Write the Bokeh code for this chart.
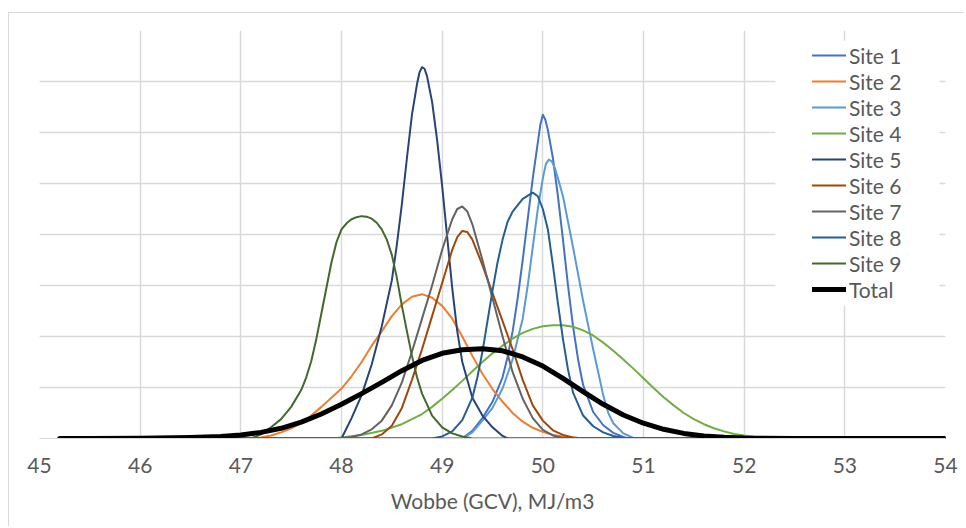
from bokeh.plotting import figure
from bokeh.models import (ColumnDataSource, Legend, LegendItem, FixedTicker, Grid,
                          SingleIntervalTicker, BoxAnnotation, Range1d)
from bokeh.embed import file_html
from bokeh.resources import INLINE

# ---------------- data ----------------
x_ticks = [45, 46, 47, 48, 49, 50, 51, 52, 53, 54]
series_names = ["Site 1", "Site 2", "Site 3", "Site 4", "Site 5",
                "Site 6", "Site 7", "Site 8", "Site 9", "Total"]

site1_x = [45.2, 49.2, 49.3, 49.4, 49.5, 49.6, 49.65, 49.7, 49.75, 49.8, 49.85, 49.9, 49.95, 49.975,
           50.0, 50.025, 50.05, 50.1, 50.15, 50.2, 50.25, 50.3, 50.35, 50.4, 50.5, 50.6, 50.7,
           50.8, 50.85, 54.0]
site1_y = [0, 0, 0.15, 0.4, 0.72, 1.2, 1.6, 2.1, 2.75, 3.5, 4.3, 5.1, 5.8, 6.15,
           6.35, 6.25, 6.05, 5.5, 4.75, 3.9, 3.0, 2.2, 1.55, 1.05, 0.52, 0.26, 0.11,
           0.03, 0, 0]

site2_x = [45.2, 47.1, 47.2, 47.3, 47.4, 47.5, 47.6, 47.7, 47.8, 47.9, 48.0, 48.1, 48.2, 48.3, 48.4,
           48.5, 48.6, 48.7, 48.8, 48.9, 49.0, 49.1, 49.2, 49.3, 49.4, 49.5, 49.6, 49.7, 49.8,
           49.9, 50.0, 50.1, 50.2, 50.3, 50.4, 54.0]
site2_y = [0, 0, 0.02, 0.06, 0.12, 0.2, 0.3, 0.45, 0.62, 0.8, 0.98, 1.22, 1.5, 1.82, 2.1,
           2.4, 2.63, 2.78, 2.83, 2.76, 2.6, 2.35, 2.0, 1.62, 1.27, 0.97, 0.72, 0.5, 0.33,
           0.21, 0.13, 0.07, 0.04, 0.02, 0, 0]

site3_x = [45.2, 49.2, 49.3, 49.4, 49.5, 49.6, 49.7, 49.8, 49.85, 49.9, 49.95, 50.0, 50.03, 50.06,
           50.09, 50.12, 50.15, 50.2, 50.3, 50.4, 50.5, 50.55, 50.6, 50.65, 50.7, 50.8, 50.9, 54.0]
site3_y = [0, 0, 0.12, 0.35, 0.6, 0.98, 1.55, 2.35, 3.0, 3.75, 4.5, 5.1, 5.38, 5.47,
           5.43, 5.3, 5.1, 4.75, 3.75, 2.7, 1.75, 1.3, 0.85, 0.5, 0.3, 0.1, 0.01, 0]

site4_x = [45.2, 47.9, 48.0, 48.2, 48.4, 48.6, 48.8, 48.9, 49.0, 49.1, 49.2, 49.3, 49.4, 49.5,
           49.6, 49.7, 49.8, 49.9, 50.0, 50.1, 50.2, 50.3, 50.4, 50.5, 50.6, 50.7, 50.8, 50.9,
           51.0, 51.1, 51.2, 51.3, 51.4, 51.5, 51.6, 51.7, 51.8, 51.9, 52.0, 52.1, 52.2, 52.3,
           52.5, 54.0]
site4_y = [0, 0, 0.02, 0.07, 0.15, 0.28, 0.48, 0.62, 0.78, 0.95, 1.13, 1.32, 1.5, 1.67,
           1.82, 1.96, 2.07, 2.15, 2.2, 2.22, 2.22, 2.19, 2.12, 2.02, 1.88, 1.72, 1.55, 1.37,
           1.18, 0.99, 0.81, 0.65, 0.5, 0.38, 0.28, 0.2, 0.14, 0.09, 0.06, 0.035, 0.02, 0.008,
           0, 0]

site5_x = [45.2, 48.0, 48.1, 48.2, 48.3, 48.4, 48.5, 48.55, 48.6, 48.65, 48.7, 48.75, 48.775, 48.8,
           48.825, 48.85, 48.9, 48.95, 49.0, 49.05, 49.1, 49.15, 49.2, 49.3, 49.4, 49.5, 49.6,
           49.65, 54.0]
site5_y = [0, 0, 0.4, 0.85, 1.45, 2.2, 3.1, 3.8, 4.6, 5.5, 6.35, 6.95, 7.18, 7.28,
           7.25, 7.1, 6.6, 5.85, 4.95, 3.95, 2.95, 2.1, 1.5, 0.8, 0.45, 0.22, 0.05,
           0, 0]

site6_x = [45.2, 48.3, 48.4, 48.5, 48.6, 48.7, 48.8, 48.9, 49.0, 49.1, 49.15, 49.2, 49.25, 49.3,
           49.4, 49.5, 49.6, 49.7, 49.8, 49.9, 50.0, 50.1, 50.2, 50.3, 50.4, 54.0]
site6_y = [0, 0, 0.08, 0.25, 0.6, 1.15, 1.75, 2.4, 3.05, 3.7, 3.95, 4.07, 4.05, 3.9,
           3.4, 2.85, 2.3, 1.75, 1.15, 0.65, 0.35, 0.16, 0.07, 0.02, 0, 0]

site7_x = [45.2, 48.0, 48.1, 48.2, 48.3, 48.4, 48.5, 48.6, 48.7, 48.8, 48.9, 49.0, 49.1, 49.15,
           49.2, 49.25, 49.3, 49.4, 49.5, 49.6, 49.7, 49.8, 49.9, 50.0, 50.1, 50.2, 54.0]
site7_y = [0, 0, 0.03, 0.08, 0.18, 0.35, 0.65, 1.1, 1.7, 2.35, 3.0, 3.7, 4.3, 4.5,
           4.55, 4.45, 4.2, 3.5, 2.75, 2.0, 1.3, 0.78, 0.4, 0.17, 0.06, 0.01, 0]

site8_x = [45.2, 48.9, 49.0, 49.1, 49.2, 49.3, 49.35, 49.4, 49.45, 49.5, 49.55, 49.6, 49.65, 49.7,
           49.8, 49.9, 49.95, 50.0, 50.05, 50.1, 50.15, 50.2, 50.25, 50.3, 50.4, 50.5, 50.6,
           50.7, 50.8, 54.0]
site8_y = [0, 0, 0.04, 0.14, 0.36, 0.8, 1.2, 1.7, 2.3, 2.9, 3.45, 3.9, 4.25, 4.45,
           4.7, 4.82, 4.75, 4.5, 4.1, 3.4, 2.65, 1.95, 1.35, 0.9, 0.45, 0.24, 0.12,
           0.05, 0.01, 0]

site9_x = [45.2, 47.1, 47.2, 47.3, 47.4, 47.5, 47.6, 47.65, 47.7, 47.75, 47.8, 47.85, 47.9, 47.95,
           48.0, 48.05, 48.1, 48.15, 48.2, 48.25, 48.3, 48.35, 48.4, 48.45, 48.5, 48.55, 48.6,
           48.65, 48.7, 48.75, 48.8, 48.9, 49.0, 49.1, 49.2, 49.3, 54.0]
site9_y = [0, 0, 0.08, 0.22, 0.38, 0.62, 0.95, 1.2, 1.52, 1.95, 2.45, 2.95, 3.45, 3.85,
           4.1, 4.22, 4.3, 4.34, 4.36, 4.35, 4.31, 4.23, 4.1, 3.9, 3.6, 3.15, 2.6,
           2.1, 1.62, 1.2, 0.88, 0.45, 0.22, 0.1, 0.04, 0, 0]

total_x = [45.2, 45.5, 46.0, 46.5, 46.8, 47.0, 47.2, 47.4, 47.6, 47.8, 48.0, 48.2, 48.4, 48.6,
           48.8, 49.0, 49.2, 49.4, 49.6, 49.8, 50.0, 50.2, 50.4, 50.6, 50.8, 51.0, 51.2, 51.4,
           51.6, 51.8, 52.0, 52.5, 53.0, 54.0]
total_y = [0, 0.002, 0.006, 0.02, 0.04, 0.07, 0.12, 0.2, 0.32, 0.48, 0.67, 0.88, 1.1, 1.33,
           1.53, 1.67, 1.74, 1.76, 1.72, 1.6, 1.42, 1.18, 0.92, 0.67, 0.46, 0.3, 0.18, 0.1,
           0.05, 0.025, 0.01, 0.002, 0, 0]

series_x = [site1_x, site2_x, site3_x, site4_x, site5_x, site6_x, site7_x, site8_x, site9_x, total_x]
series_y = [site1_y, site2_y, site3_y, site4_y, site5_y, site6_y, site7_y, site8_y, site9_y, total_y]

# ---------------- styling ----------------
colors = ["#4472C4", "#ED7D31", "#5B9BD5", "#70AD47", "#264478",
          "#9E480E", "#636363", "#255E91", "#43682B", "#000000"]
widths = [2, 2, 2, 2, 2, 2, 2, 2, 2, 5]
FONT = "Lato"
TEXT = "#595959"
GRID = "#d9d9d9"

p = figure(width=956, height=514, output_backend="svg", toolbar_location=None,
           x_range=Range1d(45, 54), y_range=Range1d(0, 8), y_axis_location=None,
           min_border_left=30, min_border_right=20, min_border_top=17, min_border_bottom=89)
p.margin = (12, 0, 0, 8)
p.styles = {"border-top": "1px solid #d9d9d9", "border-left": "1px solid #d9d9d9"}
p.outline_line_color = None
p.background_fill_color = "white"
p.border_fill_color = "white"

p.xaxis.ticker = FixedTicker(ticks=x_ticks)
p.xaxis.axis_line_color = GRID
p.xaxis.major_tick_line_color = None
p.xaxis.minor_tick_line_color = None
p.xaxis.major_label_text_font = FONT
p.xaxis.major_label_text_font_size = "21px"
p.xaxis.major_label_text_color = TEXT
p.xaxis.major_label_standoff = 13
p.xaxis.axis_label = "Wobbe (GCV), MJ/m3"
p.xaxis.axis_label_text_font = FONT
p.xaxis.axis_label_text_font_size = "21px"
p.xaxis.axis_label_text_font_style = "normal"
p.xaxis.axis_label_text_color = TEXT
p.xaxis.axis_label_standoff = 12

p.xgrid.grid_line_color = GRID
p.xgrid.grid_line_width = 1.5
p.add_layout(Grid(dimension=1, ticker=SingleIntervalTicker(interval=1),
                  grid_line_color=GRID, grid_line_width=1.5))

# white legend background hiding the gridlines
p.add_layout(BoxAnnotation(left=52.31, right=53.94, bottom=2.6, top=7.8,
                           fill_color="white", fill_alpha=1.0, line_color=None,
                           level="underlay"))

items = []
for name, xs, ys, c, w in zip(series_names, series_x, series_y, colors, widths):
    src = ColumnDataSource(data=dict(x=xs, y=ys))
    r = p.line("x", "y", source=src, line_color=c, line_width=w,
               line_join="round", line_cap="round")
    items.append(LegendItem(label=name, renderers=[r]))

legend = Legend(items=items, location=(773, 136), padding=0, margin=0, spacing=0,
                glyph_width=34, glyph_height=26, label_height=26, label_standoff=3,
                label_text_font=FONT, label_text_font_size="21px", label_text_color=TEXT,
                background_fill_alpha=0, border_line_color=None)
p.add_layout(legend)

open("out.html", "w").write(file_html(p, INLINE))
